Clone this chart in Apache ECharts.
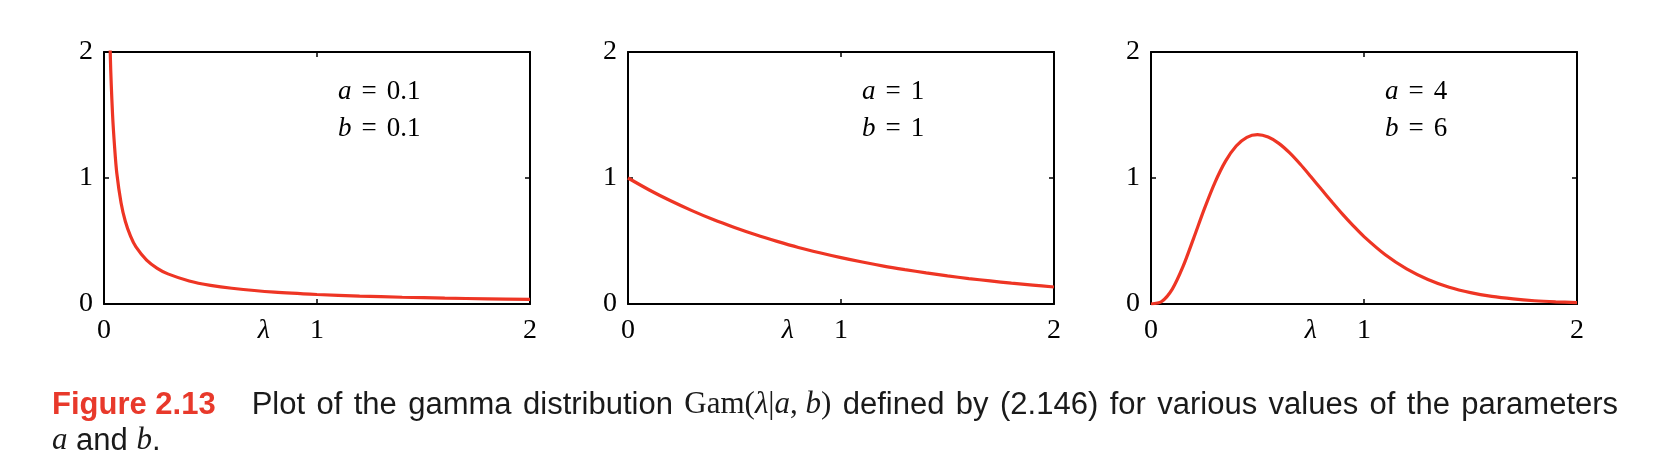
<!DOCTYPE html>
<html lang="en">
<head>
  <meta charset="UTF-8">
  <title>Gamma distribution</title>
  <style>
    * { margin: 0; padding: 0; }
    body { background: #fff; }
    #main { width: 1654px; height: 468px; }
  </style>
</head>
<body>
  <div id="main"></div>
  <script src="https://cdn.jsdelivr.net/npm/echarts@6/dist/echarts.min.js"></script>
  <script>
    // values
    var lambdaA = [0.02, 0.03, 0.04, 0.05, 0.06, 0.08, 0.1, 0.125, 0.15, 0.2, 0.25, 0.3, 0.4, 0.5, 0.6, 0.8, 1.0, 1.2, 1.4, 1.6, 1.8, 2.0];
    var densityA = [2.82, 1.95, 1.51, 1.24, 1.04, 0.804, 0.657, 0.536, 0.453, 0.348, 0.283, 0.239, 0.183, 0.148, 0.125, 0.094, 0.0756, 0.0629, 0.0536, 0.0466, 0.0411, 0.0366];

    var lambdaB = [0, 0.1, 0.2, 0.3, 0.4, 0.5, 0.6, 0.7, 0.8, 0.9, 1.0, 1.1, 1.2, 1.3, 1.4, 1.5, 1.6, 1.7, 1.8, 1.9, 2.0];
    var densityB = [1, 0.905, 0.819, 0.741, 0.670, 0.607, 0.549, 0.497, 0.449, 0.407, 0.368, 0.333, 0.301, 0.273, 0.247, 0.223, 0.202, 0.183, 0.165, 0.150, 0.135];

    var lambdaC = [0, 0.05, 0.1, 0.15, 0.2, 0.25, 0.3, 0.35, 0.4, 0.45, 0.5, 0.55, 0.6, 0.65, 0.7, 0.75, 0.8, 0.85, 0.9, 0.95, 1.0, 1.1, 1.2, 1.3, 1.4, 1.5, 1.6, 1.7, 1.8, 1.9, 2.0];
    var densityC = [0, 0.020, 0.1185, 0.296, 0.521, 0.753, 0.964, 1.134, 1.254, 1.323, 1.344, 1.325, 1.275, 1.201, 1.111, 1.012, 0.910, 0.809, 0.711, 0.620, 0.535, 0.391, 0.279, 0.195, 0.133, 0.090, 0.060, 0.040, 0.026, 0.017, 0.011];

    var params = [['0.1', '0.1'], ['1', '1'], ['4', '6']];
    var xTicks = [0, 1, 2];
    var yTicks = [0, 1, 2];
    var lambdaLabelAt = 0.75;

    var myChart = echarts.init(document.getElementById('main'));

    var red = '#ee3524';
    var serif = 'Liberation Serif';
    var sans = 'Liberation Sans';
    var panelLeft = [104, 628, 1151];
    var panelWidth = 426;
    var panelTop = 52;
    var panelHeight = 252;

    function zip(xs, ys) {
      return xs.map(function (x, i) { return [x, ys[i]]; });
    }
    var curves = [zip(lambdaA, densityA), zip(lambdaB, densityB), zip(lambdaC, densityC)];

    var grid = [], xAxis = [], yAxis = [], series = [], title = [];
    var axisLine = { show: true, onZero: false, lineStyle: { color: '#000', width: 2 } };
    var tick = { show: true, inside: true, length: 5, lineStyle: { color: '#000', width: 1.5 } };

    for (var i = 0; i < 3; i++) {
      grid.push({
        left: panelLeft[i], top: panelTop, width: panelWidth, height: panelHeight,
        outerBoundsMode: 'none'
      });
      // bottom x axis, λ sits between 0 and 1
      xAxis.push({
        type: 'value', gridIndex: i, position: 'bottom', min: 0, max: 2, interval: 1,
        axisLine: axisLine,
        axisTick: Object.assign({ customValues: xTicks }, tick),
        splitLine: { show: false },
        axisLabel: {
          customValues: xTicks.concat([lambdaLabelAt]),
          margin: 13,
          color: '#000',
          fontFamily: serif,
          fontSize: 28,
          formatter: function (v) {
            return v === lambdaLabelAt ? '{l|λ}' : '{d|' + v + '}';
          },
          rich: {
            l: { fontFamily: serif, fontStyle: 'italic', fontSize: 28, color: '#000' },
            d: { fontFamily: serif, fontSize: 28, color: '#000' }
          }
        }
      });
      // top edge of the box
      xAxis.push({
        type: 'value', gridIndex: i, position: 'top', min: 0, max: 2, interval: 1,
        axisLine: axisLine,
        axisTick: Object.assign({ customValues: xTicks }, tick),
        axisLabel: { show: false },
        splitLine: { show: false }
      });
      yAxis.push({
        type: 'value', gridIndex: i, position: 'left', min: 0, max: 2, interval: 1,
        axisLine: axisLine,
        axisTick: Object.assign({ customValues: yTicks }, tick),
        splitLine: { show: false },
        axisLabel: { customValues: yTicks, margin: 11, color: '#000', fontFamily: serif, fontSize: 28 }
      });
      // right edge of the box
      yAxis.push({
        type: 'value', gridIndex: i, position: 'right', min: 0, max: 2, interval: 1,
        axisLine: axisLine,
        axisTick: Object.assign({ customValues: yTicks }, tick),
        axisLabel: { show: false },
        splitLine: { show: false }
      });
      series.push({
        type: 'line',
        xAxisIndex: i * 2,
        yAxisIndex: i * 2,
        data: curves[i],
        smooth: 0.3,
        showSymbol: false,
        clip: true,
        lineStyle: { color: red, width: 3.2 },
        z: 1
      });
      // a = .. / b = .. note
      title.push({
        left: panelLeft[i] + 234,
        top: 73,
        padding: 0,
        text: '{i|a}{e|=}{n|' + params[i][0] + '}\n{i|b}{e|=}{n|' + params[i][1] + '}',
        textStyle: {
          fontWeight: 'normal',
          lineHeight: 37,
          rich: {
            i: { fontFamily: serif, fontStyle: 'italic', fontWeight: 'normal', fontSize: 27, color: '#000', lineHeight: 37 },
            e: { fontFamily: serif, fontWeight: 'normal', fontSize: 27, color: '#000', padding: [0, 10, 0, 10], lineHeight: 37 },
            n: { fontFamily: serif, fontWeight: 'normal', fontSize: 27, color: '#000', lineHeight: 37 }
          }
        }
      });
    }

    // caption, spaces widened a little like the justified original
    var line1 = 'Plot of the gamma distribution {m|Gam(}{mi|λ}{m||}{mi|a}{m|, }{mi|b}{m|)} defined by (2.146) for various values of the parameters';
    var parts = line1.split(/(\{[^}]*\})/);
    var captionLine1 = parts.map(function (p) {
      if (p.charAt(0) === '{') return p;
      return p.split(' ').map(function (w) { return w ? '{t|' + w + '}' : ''; }).join('{s| }');
    }).join('');

    title.push({
      left: 52,
      top: 387,
      padding: 0,
      text: '{fig|Figure 2.13}' + captionLine1 + '\n{mi|a}{t| and }{mi|b}{t|.}',
      textStyle: {
        fontWeight: 'normal',
        lineHeight: 36,
        rich: {
          fig: { fontFamily: sans, fontWeight: 'bold', fontSize: 31, color: '#e8392b', padding: [0, 36, 0, 0], lineHeight: 36 },
          t: { fontFamily: sans, fontWeight: 'normal', fontSize: 31, color: '#1a1a1a', lineHeight: 36 },
          s: { fontFamily: sans, fontWeight: 'normal', fontSize: 31, color: '#1a1a1a', lineHeight: 36, width: 11.4 },
          m: { fontFamily: serif, fontWeight: 'normal', fontSize: 31, color: '#1a1a1a', lineHeight: 36 },
          mi: { fontFamily: serif, fontStyle: 'italic', fontWeight: 'normal', fontSize: 31, color: '#1a1a1a', lineHeight: 36 }
        }
      }
    });

    myChart.setOption({
      animation: false,
      backgroundColor: '#fff',
      title: title,
      grid: grid,
      xAxis: xAxis,
      yAxis: yAxis,
      series: series
    });
  </script>
</body>
</html>
